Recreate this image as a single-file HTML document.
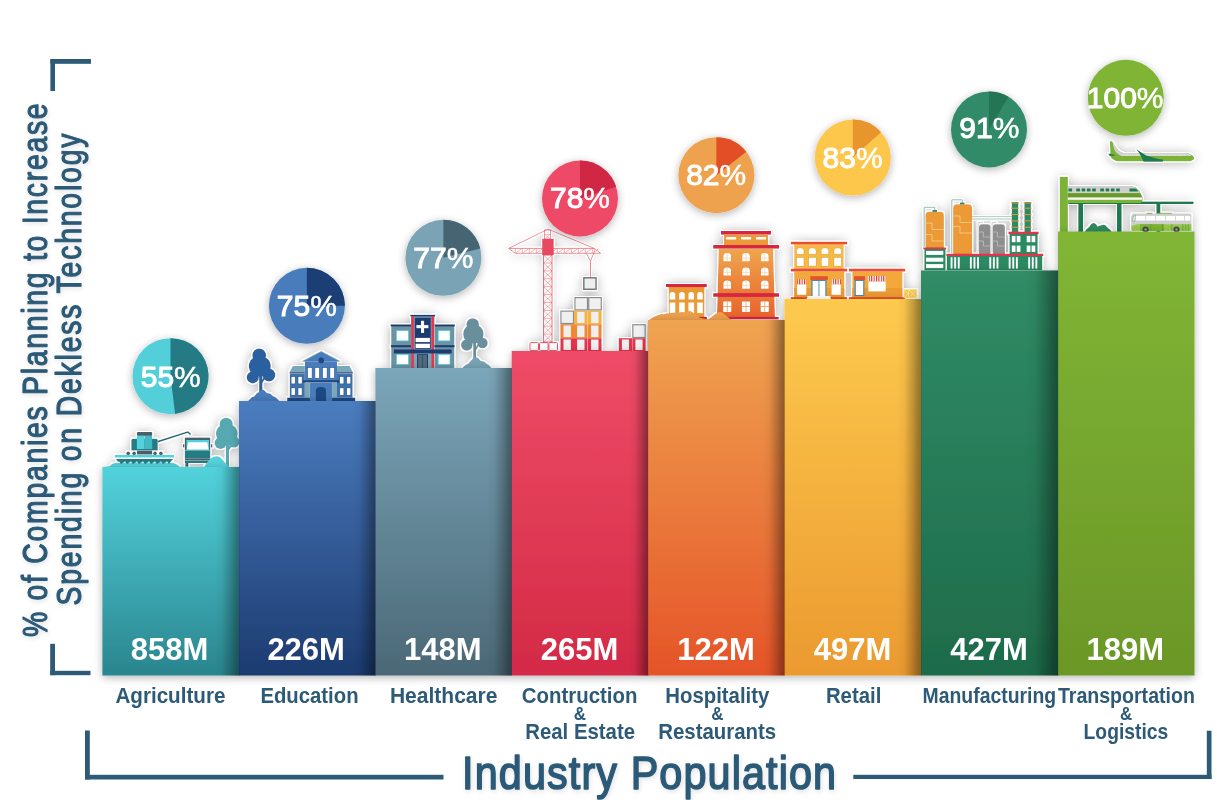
<!DOCTYPE html>
<html><head><meta charset="utf-8"><style>
html,body{margin:0;padding:0;background:#fff;width:1217px;height:800px;overflow:hidden}
svg{position:absolute;left:0;top:0;display:block}
text{font-family:"Liberation Sans",sans-serif}
.val{font-size:31px;font-weight:bold;fill:#fff;text-anchor:middle}
.lab{font-size:21.4px;font-weight:bold;fill:#2c5a77;text-anchor:middle}
.amp{font-size:18.5px;font-weight:bold;fill:#2c5a77;text-anchor:middle}
.pct tspan{stroke-width:0.5px}
.pct{font-size:30px;font-weight:normal;fill:#fff;stroke:#fff;stroke-width:1.05px;text-anchor:middle}
.ttl2{font-weight:normal;fill:#2c5a77;stroke:#2c5a77;stroke-width:1.2px;stroke-linejoin:round;text-anchor:middle}
.big{stroke-width:1.6px}
.ttl{font-weight:bold;fill:#2c5a77;text-anchor:middle}
</style></head><body>
<svg width="1217" height="800" viewBox="0 0 1217 800">
<defs><filter id="sh" x="-30%" y="-30%" width="160%" height="160%"><feGaussianBlur in="SourceAlpha" stdDeviation="4.5"/><feOffset dx="0" dy="2"/><feComponentTransfer><feFuncA type="linear" slope="0.3"/></feComponentTransfer><feMerge><feMergeNode/><feMergeNode in="SourceGraphic"/></feMerge></filter>
<filter id="tsh" x="-20%" y="-40%" width="140%" height="180%"><feGaussianBlur in="SourceAlpha" stdDeviation="2.5"/><feOffset dx="1" dy="2"/><feComponentTransfer><feFuncA type="linear" slope="0.12"/></feComponentTransfer><feMerge><feMergeNode/><feMergeNode in="SourceGraphic"/></feMerge></filter>
<filter id="ish" x="-40%" y="-60%" width="180%" height="220%"><feGaussianBlur in="SourceAlpha" stdDeviation="6" result="b"/><feOffset in="b" dx="0" dy="1" result="o"/><feComponentTransfer in="o" result="s"><feFuncA type="linear" slope="0.38"/></feComponentTransfer><feMorphology in="SourceAlpha" operator="dilate" radius="0.7" result="d"/><feFlood flood-color="#fff"/><feComposite in2="d" operator="in" result="w"/><feMerge><feMergeNode in="s"/><feMergeNode in="w"/><feMergeNode in="SourceGraphic"/></feMerge></filter>
<linearGradient id="rsh" x1="0" y1="0" x2="1" y2="0"><stop offset="0" stop-color="#000" stop-opacity="0"/><stop offset="0.3" stop-color="#000" stop-opacity="0.04"/><stop offset="0.65" stop-color="#000" stop-opacity="0.22"/><stop offset="0.88" stop-color="#000" stop-opacity="0.36"/><stop offset="1" stop-color="#000" stop-opacity="0.4"/></linearGradient>
<linearGradient id="g0" x1="0" y1="0" x2="0" y2="1"><stop offset="0" stop-color="#52d2dc"/><stop offset="1" stop-color="#2a858e"/></linearGradient>
<linearGradient id="g1" x1="0" y1="0" x2="0" y2="1"><stop offset="0" stop-color="#4b7dbf"/><stop offset="1" stop-color="#1c3b70"/></linearGradient>
<linearGradient id="g2" x1="0" y1="0" x2="0" y2="1"><stop offset="0" stop-color="#7ba6b9"/><stop offset="1" stop-color="#4b6876"/></linearGradient>
<linearGradient id="g3" x1="0" y1="0" x2="0" y2="1"><stop offset="0" stop-color="#ef4c67"/><stop offset="1" stop-color="#d32a46"/></linearGradient>
<linearGradient id="g4" x1="0" y1="0" x2="0" y2="1"><stop offset="0" stop-color="#efa451"/><stop offset="1" stop-color="#e55428"/></linearGradient>
<linearGradient id="g5" x1="0" y1="0" x2="0" y2="1"><stop offset="0" stop-color="#fdca4e"/><stop offset="1" stop-color="#eb9a2f"/></linearGradient>
<linearGradient id="g6" x1="0" y1="0" x2="0" y2="1"><stop offset="0" stop-color="#308c66"/><stop offset="1" stop-color="#1e6b4a"/></linearGradient>
<linearGradient id="g7" x1="0" y1="0" x2="0" y2="1"><stop offset="0" stop-color="#81b636"/><stop offset="1" stop-color="#6b9727"/></linearGradient></defs>
<g fill="#2c5a77">
<rect x="50.4" y="59" width="4.6" height="32"/><rect x="50.4" y="59" width="40.6" height="4.8"/>
<rect x="50.2" y="643.8" width="4.8" height="31.4"/><rect x="50.2" y="670.8" width="40.3" height="4.4"/>
<rect x="85" y="730.5" width="4.8" height="49"/><rect x="85" y="774.8" width="358.5" height="4.7"/>
<rect x="1206.8" y="730.7" width="4.7" height="48.3"/><rect x="853.3" y="774.8" width="358.2" height="4.2"/>
</g>
<g filter="url(#tsh)">
<text class="ttl2" font-size="35.5" transform="rotate(-90) scale(0.8,1)" x="-462.75" y="47" textLength="667" lengthAdjust="spacing">% of Companies Planning to Increase</text>
<text class="ttl2" font-size="35.5" transform="rotate(-90) scale(0.8,1)" x="-461.9" y="80.7" textLength="590" lengthAdjust="spacing">Spending on Dekless Technology</text>
<text class="ttl2 big" font-size="47" transform="scale(0.88,1)" x="737.6" y="788.9" textLength="425" lengthAdjust="spacing">Industry Population</text>
</g>
<!-- AGRICULTURE -->
<g filter="url(#ish)">
<!-- ground bumps -->
<path d="M104 467 L110 466 C112 463 116 462.5 120 463 C124 462 128 463 132 462.5 C136 462 140 463 144 462.5 C148 462 152 463 156 462.5 C160 462 166 463 170 462.7 C174 462.5 177 464 180 467 Z" fill="#52d2dc"/>
<!-- harvester -->
<path d="M131.3 450.6 L131.3 440.5 Q131.3 438.8 133 438.8 L156 438.8 Q157.8 438.8 157.8 440.5 L157.8 450.6 Z" fill="#227c86"/>
<path d="M157.8 441.6 L188 432 L190.6 434.6" stroke="#1f6f78" stroke-width="1.7" fill="none" stroke-linejoin="round"/>
<rect x="136.9" y="431.9" width="15.3" height="4" rx="0.8" fill="#4a606b"/>
<rect x="136.9" y="435.6" width="7.65" height="13.4" fill="#52d2dc"/>
<rect x="144.55" y="435.6" width="7.65" height="13.4" fill="#45b9c3"/>
<rect x="136.9" y="450.6" width="15.3" height="4" fill="#4a606b"/>
<circle cx="128.2" cy="453.3" r="1.9" fill="#4a606b"/><circle cx="134.1" cy="453.3" r="1.9" fill="#4a606b"/>
<circle cx="155" cy="453.3" r="1.9" fill="#4a606b"/><circle cx="160.9" cy="453.3" r="1.9" fill="#4a606b"/>
<rect x="114.7" y="454.9" width="59.3" height="2.7" fill="#52d2dc"/>
<path d="M115.9 458.9 L173.1 458.9 L171 461.5 L169 464 L167 461.5 L163 464 L161 461.5 L157 464 L155 461.5 L151 464 L149 461.5 L145 464 L143 461.5 L139 464 L137 461.5 L133 464 L131 461.5 L127 464 L125 461.5 L121 464 L119 461.5 L118 462 Z" fill="#227c86"/>
<!-- truck -->
<rect x="184.8" y="437.4" width="25.5" height="13.2" rx="0.6" fill="#4a606b"/>
<path d="M186.4 440 L209.1 440 L209.1 450.5 L186.4 450.5 Z" fill="#52d2dc"/>
<path d="M188 442.2 L207.3 442.2 L208.7 449.6 L186.8 449.6 Z" fill="#fff"/>
<rect x="183" y="444" width="1.4" height="3.6" rx="0.7" fill="#4a606b"/>
<rect x="211" y="444" width="1.4" height="3.6" rx="0.7" fill="#4a606b"/>
<rect x="184.8" y="450.5" width="25.5" height="7.8" fill="#227c86"/>
<rect x="184.8" y="458.2" width="25.5" height="2" fill="#4a606b"/>
<rect x="184.8" y="460.2" width="25.5" height="2.8" rx="0.5" fill="#227c86"/>
<rect x="185.3" y="462.8" width="3.1" height="4" fill="#4a606b"/>
<rect x="206.7" y="462.8" width="3.1" height="4" fill="#4a606b"/>
<!-- tree -->
<g fill="#57a9b0">
<circle cx="226.2" cy="424.2" r="6.5"/>
<ellipse cx="226.8" cy="433.5" rx="10.8" ry="10"/>
<circle cx="220.6" cy="443" r="6"/>
<circle cx="233.8" cy="441.8" r="5.8"/>
<rect x="225.9" y="440" width="3.1" height="27"/>
<path d="M227 449 L231.5 443 L233.5 444 L228.5 451 Z"/>
</g>
<path d="M204 467 C207 462 210 458.5 213.5 456.8 C216.5 455.6 219 456.2 221 458 C223.5 460.5 226 463.5 229 467 Z" fill="#52d2dc"/>
</g>

<!-- EDUCATION -->
<g filter="url(#ish)">
<!-- tree -->
<g fill="#2c61a0">
<circle cx="259.2" cy="355.5" r="6.9"/>
<ellipse cx="259.8" cy="366.2" rx="11" ry="10.5"/>
<circle cx="252.8" cy="377.3" r="6.1"/>
<circle cx="268.9" cy="375" r="6.5"/>
<rect x="259.1" y="372" width="3.3" height="20"/>
<path d="M260.5 382 L265 375.5 L266.3 376.5 L262 383.5 Z"/>
</g>
<path d="M248 401 L252 397 L254 396.5 L257 393 L259 392 L261.5 389.6 L264 390 L267 393 L270 393.5 L273 396 L276 397.5 L279.5 401 Z" fill="#4a7bbb"/>
<!-- building -->
<path d="M289.5 372.2 L292.8 366 L304.9 366 L304.9 372.2 Z" fill="#7aa8b8"/>
<path d="M352.9 372.2 L349.6 366 L337 366 L337 372.2 Z" fill="#7aa8b8"/>
<rect x="289.5" y="372.1" width="15.4" height="1.3" fill="#1d4a82"/>
<rect x="337" y="372.1" width="15.9" height="1.3" fill="#1d4a82"/>
<rect x="289.8" y="373.3" width="15.1" height="24.5" fill="#3f72ad"/>
<rect x="337" y="373.3" width="15.6" height="24.5" fill="#3f72ad"/>
<g fill="#fff" stroke="#1d4a82" stroke-width="0.5">
<rect x="291.1" y="376.6" width="4.1" height="7.3"/><rect x="298" y="376.6" width="4.1" height="7.3"/>
<rect x="291.1" y="387.9" width="4.1" height="7.3"/><rect x="298" y="387.9" width="4.1" height="7.3"/>
<rect x="339.8" y="376.6" width="4.1" height="7.3"/><rect x="346.7" y="376.6" width="4.1" height="7.3"/>
<rect x="339.8" y="387.9" width="4.1" height="7.3"/><rect x="346.7" y="387.9" width="4.1" height="7.3"/>
</g>
<path d="M301.3 361.6 L321.2 351 L341.1 361.6 Z" fill="#7aa8b8"/>
<path d="M303 361.6 L321.2 352 L339.4 361.6 Z" fill="#4a7bbb"/>
<rect x="304.9" y="361.5" width="32.1" height="19.5" fill="#4a7bbb"/>
<circle cx="321.2" cy="360.4" r="2.8" fill="#1d4a82"/>
<g fill="#fff" stroke="#1d4a82" stroke-width="0.5">
<rect x="307.6" y="367.6" width="4.5" height="10.6"/><rect x="314.9" y="367.6" width="4.5" height="10.6"/>
<rect x="322.6" y="367.6" width="4.5" height="10.6"/><rect x="329.9" y="367.6" width="4.5" height="10.6"/>
</g>
<rect x="302.9" y="380.2" width="36.1" height="2.5" fill="#1d4a82"/>
<rect x="304.9" y="382.5" width="4.9" height="15.3" fill="#7aa8b8"/>
<rect x="332.1" y="382.5" width="4.9" height="15.3" fill="#7aa8b8"/>
<rect x="287.1" y="397.6" width="68.2" height="3.4" fill="#1d4a82"/>
<rect x="309.8" y="382.6" width="22.3" height="18.4" fill="#4a7bbb"/>
<path d="M315.9 401 L315.9 390.5 Q315.9 387.1 321 387.1 Q326 387.1 326 390.5 L326 401 Z" fill="#1d4a82"/>
</g>

<!-- HEALTHCARE -->
<g filter="url(#ish)">
<!-- wings -->
<rect x="391.2" y="325.5" width="19.8" height="42.5" fill="#6b93a3"/>
<rect x="434.6" y="325.5" width="19.7" height="42.5" fill="#6b93a3"/>
<rect x="390.5" y="324.3" width="20.5" height="2.1" fill="#1a3a70"/>
<rect x="434.6" y="324.3" width="20.3" height="2.1" fill="#1a3a70"/>
<g fill="#fff" stroke="#4fd0da" stroke-width="0.7">
<rect x="396.4" y="330.7" width="12" height="10.2"/><rect x="438.2" y="330.7" width="11.8" height="10.2"/>
<rect x="396.4" y="354.4" width="12" height="10"/><rect x="438.2" y="354.4" width="11.8" height="10"/>
</g>
<rect x="390.8" y="345.2" width="63.9" height="2" fill="#1a3a70"/>
<!-- tower -->
<rect x="411" y="316" width="23.6" height="52" fill="#7ba3b5"/>
<rect x="410.2" y="314.8" width="25.1" height="1.6" fill="#1a3a70"/>
<rect x="411.3" y="316" width="2.5" height="52" fill="#e8344e"/>
<rect x="431.5" y="316" width="2.5" height="52" fill="#e8344e"/>
<rect x="414.8" y="317.7" width="15.9" height="31" fill="#1a3a70"/>
<rect x="416.4" y="325.1" width="12" height="3.1" fill="#fff"/>
<rect x="421" y="320.8" width="3.1" height="12.1" fill="#fff"/>
<rect x="415.6" y="337.9" width="14.3" height="4.2" fill="#fff"/>
<rect x="415.6" y="343.7" width="14.3" height="4.3" fill="#fff"/>
<rect x="393.9" y="349.5" width="57.7" height="3.9" fill="#1a3a70"/>
<rect x="417.1" y="354.2" width="10.9" height="13.8" fill="#1a3a70"/>
<rect x="418.1" y="355" width="4.2" height="13" fill="#536b77"/>
<rect x="422.8" y="355" width="4.2" height="13" fill="#536b77"/>
<!-- tree -->
<g fill="#6b8f9c">
<circle cx="472.7" cy="324.5" r="6.3"/>
<ellipse cx="473.4" cy="334" rx="10.3" ry="9.8"/>
<circle cx="466.8" cy="345" r="5.8"/>
<circle cx="482.5" cy="343" r="5.2"/>
<rect x="473.2" y="340" width="2.8" height="19"/>
<path d="M474.5 349 L478.5 343 L479.7 344 L476 350.5 Z"/>
</g>
<path d="M462.4 368 L466 364.5 L468 364 L471 360.5 L473 358.5 L475.5 356.9 L478 358 L481 361 L484 361.5 L487 364 L489 365 L491.5 368 Z" fill="#78a3b5"/>
</g>

<!-- CONSTRUCTION -->
<g filter="url(#ish)">
<path d="M548.1 229.1 L508.7 248.4 M548.1 229.1 L594.2 248.4" stroke="#e84a62" stroke-width="0.8" fill="none"/>
<path d="M508.7 248.4 L594.2 248.4 L600.7 253.3 L515.3 253.3 Z" fill="none" stroke="#e84a62" stroke-width="0.8"/>
<path d="M515.3 248.4 L515.3 253.3 M516.3 252.6 L521.1 249.1 M522.3 248.4 L522.3 253.3 M523.3 252.6 L528.1 249.1 M529.3 248.4 L529.3 253.3 M530.3 252.6 L535.1 249.1 M536.3 248.4 L536.3 253.3 M537.3 252.6 L542.1 249.1 M543.3 248.4 L543.3 253.3 M544.3 252.6 L549.1 249.1 M550.3 248.4 L550.3 253.3 M551.3 252.6 L556.1 249.1 M557.3 248.4 L557.3 253.3 M558.3 252.6 L563.1 249.1 M564.3 248.4 L564.3 253.3 M565.3 252.6 L570.1 249.1 M571.3 248.4 L571.3 253.3 M572.3 252.6 L577.1 249.1 M578.3 248.4 L578.3 253.3 M579.3 252.6 L584.1 249.1 M585.3 248.4 L585.3 253.3 M586.3 252.6 L591.1 249.1 M592.3 248.4 L592.3 253.3 M593.3 252.6 L598.1 249.1 M594.2 248.4 L594.2 253.3" stroke="#e84a62" stroke-width="0.6" fill="none"/>
<rect x="544.5" y="230" width="6" height="9" fill="none" stroke="#e84a62" stroke-width="0.7"/>
<path d="M544.5 234.5 L550.5 234.5 M544.5 234.5 L550.5 239 M550.5 234.5 L544.5 239" stroke="#e84a62" stroke-width="0.45"/>
<rect x="542.1" y="238.8" width="11.7" height="16.3" fill="#e84a62"/>
<rect x="543.6" y="255.1" width="8.4" height="87" fill="none" stroke="#e84a62" stroke-width="1"/>
<path d="M543.6 255.1 L552 263.0 M552 255.1 L543.6 263.0 M543.6 263.0 L552 263.0 M543.6 263.0 L552 270.9 M552 263.0 L543.6 270.9 M543.6 270.9 L552 270.9 M543.6 270.9 L552 278.8 M552 270.9 L543.6 278.8 M543.6 278.8 L552 278.8 M543.6 278.8 L552 286.7 M552 278.8 L543.6 286.7 M543.6 286.7 L552 286.7 M543.6 286.7 L552 294.6 M552 286.7 L543.6 294.6 M543.6 294.6 L552 294.6 M543.6 294.6 L552 302.5 M552 294.6 L543.6 302.5 M543.6 302.5 L552 302.5 M543.6 302.5 L552 310.4 M552 302.5 L543.6 310.4 M543.6 310.4 L552 310.4 M543.6 310.4 L552 318.3 M552 310.4 L543.6 318.3 M543.6 318.3 L552 318.3 M543.6 318.3 L552 326.2 M552 318.3 L543.6 326.2 M543.6 326.2 L552 326.2 M543.6 326.2 L552 334.1 M552 326.2 L543.6 334.1 M543.6 334.1 L552 334.1 M543.6 334.1 L552 342.0 M552 334.1 L543.6 342.0 M543.6 342.0 L552 342.0 M543.6 342.0 L552 349.9 M552 342.0 L543.6 349.9 M543.6 349.9 L552 349.9 " stroke="#e84a62" stroke-width="0.6" fill="none"/>
<path d="M586.3 253.3 L590.5 261.2 L593.7 253.3 M590.5 261.2 L590.5 277.5" stroke="#e84a62" stroke-width="0.8" fill="none"/>
<rect x="583.8" y="277.8" width="12.3" height="11.5" fill="#eee" stroke="#777" stroke-width="1.5"/>
<rect x="529.9" y="342.6" width="8.6" height="8" rx="0.8" fill="#fff" stroke="#e84a62" stroke-width="1"/>
<rect x="539.5" y="342.6" width="8.6" height="8" rx="0.8" fill="#fff" stroke="#e84a62" stroke-width="1"/>
<rect x="548.9" y="342.6" width="8.6" height="8" rx="0.8" fill="#fff" stroke="#e84a62" stroke-width="1"/>
<rect x="560.3" y="338.1" width="13.8" height="12.9" fill="#e23450"/>
<rect x="563.5" y="339.5" width="7.4" height="10.5" fill="#efefef"/>
<rect x="573.9" y="338.1" width="13.8" height="12.9" fill="#e23450"/>
<rect x="577.1" y="339.5" width="7.4" height="10.5" fill="#efefef"/>
<rect x="587.9" y="338.1" width="13.8" height="12.9" fill="#e23450"/>
<rect x="591.1" y="339.5" width="7.4" height="10.5" fill="#efefef"/>
<rect x="560.3" y="324.1" width="13.8" height="14.0" fill="#ef8a32"/>
<rect x="563.5" y="325.5" width="7.4" height="11.6" fill="#efefef"/>
<rect x="573.9" y="324.1" width="13.8" height="14.0" fill="#ef8a32"/>
<rect x="577.1" y="325.5" width="7.4" height="11.6" fill="#efefef"/>
<rect x="587.9" y="324.1" width="13.8" height="14.0" fill="#ef8a32"/>
<rect x="591.1" y="325.5" width="7.4" height="11.6" fill="#efefef"/>
<rect x="560.9" y="311.1" width="12.6" height="12.4" fill="#f0f0f0" stroke="#8a8a8a" stroke-width="1.2"/>
<rect x="573.9" y="310.5" width="13.8" height="13.6" fill="#f5b43e"/>
<rect x="577.1" y="311.9" width="7.4" height="11.2" fill="#efefef"/>
<rect x="587.9" y="310.5" width="13.8" height="13.6" fill="#f5b43e"/>
<rect x="591.1" y="311.9" width="7.4" height="11.2" fill="#efefef"/>
<rect x="574.9" y="297.6" width="12.6" height="12.3" fill="#f0f0f0" stroke="#8a8a8a" stroke-width="1.2"/>
<rect x="588.7" y="297.6" width="12.6" height="12.3" fill="#f0f0f0" stroke="#8a8a8a" stroke-width="1.2"/>
<rect x="618.7" y="338.1" width="13.5" height="12.9" fill="#e23450"/>
<rect x="621.9" y="339.5" width="7.1" height="10.5" fill="#efefef"/>
<rect x="632.2" y="338.1" width="13.6" height="12.9" fill="#e23450"/>
<rect x="635.4" y="339.5" width="7.2" height="10.5" fill="#efefef"/>
<rect x="632.8" y="324.7" width="12.4" height="12.8" fill="#f0f0f0" stroke="#8a8a8a" stroke-width="1.2"/>
</g>
<!-- HOSPITALITY -->
<defs><linearGradient id="hg" x1="0" y1="0" x2="0" y2="1"><stop offset="0" stop-color="#efa64c"/><stop offset="1" stop-color="#e8622c"/></linearGradient></defs>
<g filter="url(#ish)">
<rect x="668.75" y="287" width="35.65" height="32" fill="#ea9a36"/>
<rect x="666" y="284" width="40.9" height="3.1" fill="#d7263f"/>
<path d="M669.70 299.4 L669.70 294.6 Q669.70 291.9 672.50 291.9 Q675.30 291.9 675.30 294.6 L675.30 299.4 Z" fill="#fff"/>
<rect x="669.70" y="302.5" width="5.6" height="10.6" fill="#fff"/>
<path d="M679.10 299.4 L679.10 294.6 Q679.10 291.9 681.90 291.9 Q684.70 291.9 684.70 294.6 L684.70 299.4 Z" fill="#fff"/>
<rect x="679.10" y="302.5" width="5.6" height="10.6" fill="#fff"/>
<path d="M688.45 299.4 L688.45 294.6 Q688.45 291.9 691.25 291.9 Q694.05 291.9 694.05 294.6 L694.05 299.4 Z" fill="#fff"/>
<rect x="688.45" y="302.5" width="5.6" height="10.6" fill="#fff"/>
<path d="M697.20 299.4 L697.20 294.6 Q697.20 291.9 700.00 291.9 Q702.80 291.9 702.80 294.6 L702.80 299.4 Z" fill="#fff"/>
<rect x="697.20" y="302.5" width="5.6" height="10.6" fill="#fff"/>
<rect x="698.75" y="316.9" width="8.2" height="2.5" fill="#d7263f"/>
<rect x="721" y="231" width="50" height="3.75" fill="#d7263f"/>
<rect x="724" y="234.7" width="44.1" height="10.3" fill="#eb9a38"/>
<rect x="726.00" y="237.1" width="10.25" height="2.5" rx="1" fill="#fff"/>
<rect x="741.00" y="237.1" width="10.25" height="2.5" rx="1" fill="#fff"/>
<rect x="756.00" y="237.1" width="10.25" height="2.5" rx="1" fill="#fff"/>
<path d="M718.75 248.7 L773.1 248.7 L775 318 L716.9 318 Z" fill="url(#hg)"/>
<rect x="713.1" y="245" width="65.9" height="3.75" fill="#d7263f"/>
<rect x="713.1" y="293.1" width="65.9" height="3.8" fill="#d7263f"/>
<path d="M723.50 261.25 L723.50 256.30 Q723.50 253.1 727.25 253.1 Q731.00 253.1 731.00 256.30 L731.00 261.25 Z" fill="#fff"/>
<path d="M727.25 253.1 L727.25 261.25 M723.50 257.98 L731.00 257.98" stroke="#f0c7a0" stroke-width="0.6"/>
<path d="M723.50 275.6 L723.50 270.70 Q723.50 267.5 727.25 267.5 Q731.00 267.5 731.00 270.70 L731.00 275.6 Z" fill="#fff"/>
<path d="M727.25 267.5 L727.25 275.6 M723.50 272.35 L731.00 272.35" stroke="#f0c7a0" stroke-width="0.6"/>
<path d="M723.50 288.75 L723.50 283.80 Q723.50 280.6 727.25 280.6 Q731.00 280.6 731.00 283.80 L731.00 288.75 Z" fill="#fff"/>
<path d="M727.25 280.6 L727.25 288.75 M723.50 285.48 L731.00 285.48" stroke="#f0c7a0" stroke-width="0.6"/>
<rect x="723.20" y="301.5" width="8.1" height="10.4" rx="0.8" fill="#fff"/>
<path d="M727.25 301.5 L727.25 311.9 M723.20 306.5 L731.30 306.5" stroke="#ec8a48" stroke-width="0.7"/>
<path d="M742.25 261.25 L742.25 256.30 Q742.25 253.1 746.00 253.1 Q749.75 253.1 749.75 256.30 L749.75 261.25 Z" fill="#fff"/>
<path d="M746.00 253.1 L746.00 261.25 M742.25 257.98 L749.75 257.98" stroke="#f0c7a0" stroke-width="0.6"/>
<path d="M742.25 275.6 L742.25 270.70 Q742.25 267.5 746.00 267.5 Q749.75 267.5 749.75 270.70 L749.75 275.6 Z" fill="#fff"/>
<path d="M746.00 267.5 L746.00 275.6 M742.25 272.35 L749.75 272.35" stroke="#f0c7a0" stroke-width="0.6"/>
<path d="M742.25 288.75 L742.25 283.80 Q742.25 280.6 746.00 280.6 Q749.75 280.6 749.75 283.80 L749.75 288.75 Z" fill="#fff"/>
<path d="M746.00 280.6 L746.00 288.75 M742.25 285.48 L749.75 285.48" stroke="#f0c7a0" stroke-width="0.6"/>
<rect x="741.95" y="301.5" width="8.1" height="10.4" rx="0.8" fill="#fff"/>
<path d="M746.00 301.5 L746.00 311.9 M741.95 306.5 L750.05 306.5" stroke="#ec8a48" stroke-width="0.7"/>
<path d="M761.00 261.25 L761.00 256.30 Q761.00 253.1 764.75 253.1 Q768.50 253.1 768.50 256.30 L768.50 261.25 Z" fill="#fff"/>
<path d="M764.75 253.1 L764.75 261.25 M761.00 257.98 L768.50 257.98" stroke="#f0c7a0" stroke-width="0.6"/>
<path d="M761.00 275.6 L761.00 270.70 Q761.00 267.5 764.75 267.5 Q768.50 267.5 768.50 270.70 L768.50 275.6 Z" fill="#fff"/>
<path d="M764.75 267.5 L764.75 275.6 M761.00 272.35 L768.50 272.35" stroke="#f0c7a0" stroke-width="0.6"/>
<path d="M761.00 288.75 L761.00 283.80 Q761.00 280.6 764.75 280.6 Q768.50 280.6 768.50 283.80 L768.50 288.75 Z" fill="#fff"/>
<path d="M764.75 280.6 L764.75 288.75 M761.00 285.48 L768.50 285.48" stroke="#f0c7a0" stroke-width="0.6"/>
<rect x="760.70" y="301.5" width="8.1" height="10.4" rx="0.8" fill="#fff"/>
<path d="M764.75 301.5 L764.75 311.9 M760.70 306.5 L768.80 306.5" stroke="#ec8a48" stroke-width="0.7"/>
<rect x="728" y="316.9" width="50.75" height="2.6" fill="#d7263f"/>
<path d="M648.5 320.5 L651 318.5 L654.5 316.5 L657 315.5 L659 314.8 L661 313.9 L663.5 314.2 L665.5 313.4 L667.6 313.2 L670 313.6 L672 312.9 L674.2 312.6 L676.5 313 L679 312.4 L682 311.9 L684.5 312.3 L687 311.6 L690 311 L692.5 312.2 L695.2 313.9 L697.5 315.8 L699.8 317.8 L703 318.6 L706 319 L708.4 319.2 L711 317.5 L713.6 315.2 L716 313.6 L718 312.6 L720.2 311.9 L722.5 312.8 L725.5 315.2 L728 317.3 L730.7 319.2 L732 320.5 Z" fill="#eda04e"/>
</g>
<!-- RETAIL -->
<defs><pattern id="awn" x="0" y="0" width="2.4" height="10" patternUnits="userSpaceOnUse"><rect width="1.2" height="10" fill="#d62b3f"/><rect x="1.2" width="1.2" height="10" fill="#fff"/></pattern></defs>
<g filter="url(#ish)">
<rect x="794.2" y="244.3" width="49.5" height="24.6" fill="#f7b93f"/>
<rect x="790.75" y="241.7" width="56.35" height="2.8" fill="#e8502a"/>
<path d="M796.5 254.3 L796.5 250.7 Q796.5 247.7 800.25 247.7 Q804.0 247.7 804.0 250.7 L804.0 254.3 Z" fill="#fff" stroke="#c98a2e" stroke-width="0.4"/>
<rect x="796.5" y="257.4" width="7.5" height="8.7" fill="#fff" stroke="#c98a2e" stroke-width="0.4"/>
<path d="M808.6 254.3 L808.6 250.7 Q808.6 247.7 812.35 247.7 Q816.1 247.7 816.1 250.7 L816.1 254.3 Z" fill="#fff" stroke="#c98a2e" stroke-width="0.4"/>
<rect x="808.6" y="257.4" width="7.5" height="8.7" fill="#fff" stroke="#c98a2e" stroke-width="0.4"/>
<path d="M821.2 254.3 L821.2 250.7 Q821.2 247.7 824.95 247.7 Q828.7 247.7 828.7 250.7 L828.7 254.3 Z" fill="#fff" stroke="#c98a2e" stroke-width="0.4"/>
<rect x="821.2" y="257.4" width="7.5" height="8.7" fill="#fff" stroke="#c98a2e" stroke-width="0.4"/>
<path d="M833.9 254.3 L833.9 250.7 Q833.9 247.7 837.65 247.7 Q841.4 247.7 841.4 250.7 L841.4 254.3 Z" fill="#fff" stroke="#c98a2e" stroke-width="0.4"/>
<rect x="833.9" y="257.4" width="7.5" height="8.7" fill="#fff" stroke="#c98a2e" stroke-width="0.4"/>
<rect x="794.2" y="271.5" width="50.1" height="26.2" fill="#f2a83a"/>
<rect x="794.2" y="288" width="50.1" height="9.7" fill="#eb9a32"/>
<rect x="790.75" y="268.6" width="56.35" height="3" fill="#e8502a"/>
<rect x="810.3" y="276.2" width="17.5" height="3.7" fill="#e8502a"/>
<rect x="811.4" y="279.9" width="15.1" height="16.3" fill="#4a8aa0"/>
<rect x="812.6" y="281" width="5.9" height="15.2" fill="#fff"/>
<rect x="819.4" y="281" width="5.9" height="15.2" fill="#fff"/>
<rect x="797.1" y="279.3" width="9.2" height="5.2" fill="url(#awn)"/>
<rect x="797.1" y="284.5" width="9.2" height="10.3" fill="#fff"/>
<rect x="831.6" y="279.3" width="9.2" height="5.2" fill="url(#awn)"/>
<rect x="831.6" y="284.5" width="9.2" height="10.3" fill="#fff"/>
<rect x="790.75" y="297.1" width="16.1" height="1.9" fill="#e8502a"/>
<rect x="830.5" y="297.1" width="16.6" height="1.9" fill="#e8502a"/>
<rect x="807.4" y="296" width="23.1" height="3" fill="#fff"/>
<rect x="852.3" y="271.5" width="50.1" height="26.2" fill="#f2a83a"/>
<rect x="852.3" y="288" width="50.1" height="9.7" fill="#eb9a32"/>
<rect x="848.9" y="268.6" width="56.4" height="3" fill="#e8502a"/>
<rect x="854" y="276.2" width="11" height="3.7" fill="#e8502a"/>
<rect x="854.6" y="279.9" width="9.8" height="16.1" fill="#4a8aa0"/>
<rect x="855.8" y="281" width="7.4" height="14" fill="#fff"/>
<rect x="867.6" y="275.9" width="18.4" height="5.7" fill="url(#awn)"/>
<rect x="868.4" y="281.6" width="17.3" height="9.8" fill="#fff"/>
<rect x="848.9" y="297.1" width="56.4" height="1.9" fill="#e8502a"/>
<rect x="904.0" y="289.6" width="8.2" height="8.3" fill="#f7c64a" stroke="#fde79a" stroke-width="0.8"/>
<path d="M904.5 290.1 L911.7 297.4 M911.7 290.1 L904.5 297.4" stroke="#fde79a" stroke-width="0.8"/>
<rect x="908.6" y="289.6" width="8.2" height="8.3" fill="#f7c64a" stroke="#fde79a" stroke-width="0.8"/>
<path d="M909.1 290.1 L916.3000000000001 297.4 M916.3000000000001 290.1 L909.1 297.4" stroke="#fde79a" stroke-width="0.8"/>
</g>
<!-- MANUFACTURING -->
<g filter="url(#ish)">
<path d="M924.2 247 L924.2 207.3 L934.8 207.3 L934.8 210.5" stroke="#5fa88a" stroke-width="0.8" fill="none"/>
<path d="M951.8 253 L951.8 199.8 L962.3 199.8 L962.3 203" stroke="#5fa88a" stroke-width="0.8" fill="none"/>
<path d="M972 216.6 L1012 216.6 M972 219 L1012 219" stroke="#8fc2ae" stroke-width="0.8" fill="none"/>
<path d="M978.3 252 L978.3 222.5 L983 222.5 M992.2 252 L992.2 222.5 L996.5 222.5" stroke="#bbb" stroke-width="0.6" fill="none"/>
<path d="M925.5 248 L925.5 215.5 Q925.5 211.7 929 211.7 L940.5 211.7 Q943.9 211.7 943.9 215.5 L943.9 248 Z" fill="#ec9a34"/>
<rect x="932.4" y="210" width="4.6" height="1.9" fill="#2a8a62"/>
<path d="M925.5 223 L932 223 L932 229.5 L943.9 229.5 M925.5 234.5 L932 234.5 L932 241 L943.9 241" stroke="#f6d7a6" stroke-width="0.7" fill="none"/>
<rect x="924.3" y="249" width="21.3" height="21.5" fill="#2a8a62"/>
<rect x="923.2" y="247.4" width="23" height="1.8" fill="#e0344d"/>
<rect x="926" y="250.9" width="17.3" height="4" fill="#fff"/>
<rect x="926" y="257.7" width="17.3" height="4" fill="#fff"/>
<rect x="926" y="264.1" width="17.3" height="4" fill="#fff"/>
<path d="M953.1 254 L953.1 208.5 Q953.1 204.2 957 204.2 L968.2 204.2 Q972.1 204.2 972.1 208.5 L972.1 254 Z" fill="#ec9a34"/>
<rect x="960" y="202.5" width="4.6" height="1.9" fill="#2a8a62"/>
<path d="M953.1 216 L960 216 L960 222.5 L972.1 222.5 M953.1 226.5 L960 226.5 L960 233 L972.1 233" stroke="#f6d7a6" stroke-width="0.7" fill="none"/>
<path d="M979 254 L979 227.5 Q979 224.3 982 224.3 L987.5 224.3 Q990.5 224.3 990.5 227.5 L990.5 254 Z" fill="#8e8e8e"/>
<path d="M979 232 L983.4 232 L983.4 237 L990.5 237 M979 241 L983.4 241 L983.4 246 L990.5 246" stroke="#cfcfcf" stroke-width="0.6" fill="none"/>
<path d="M992.8 254 L992.8 227.5 Q992.8 224.3 995.8 224.3 L1001.9 224.3 Q1004.9 224.3 1004.9 227.5 L1004.9 254 Z" fill="#8e8e8e"/>
<path d="M992.8 232 L997.4 232 L997.4 237 L1004.9 237 M992.8 241 L997.4 241 L997.4 246 L1004.9 246" stroke="#cfcfcf" stroke-width="0.6" fill="none"/>
<rect x="1011.8" y="202" width="6.5" height="30" fill="#2a8a62"/>
<rect x="1010.9" y="202.5" width="8.3" height="1" fill="#ec9a34"/>
<rect x="1010.9" y="207.7" width="8.3" height="1" fill="#ec9a34"/>
<rect x="1010.9" y="214.1" width="8.3" height="1" fill="#ec9a34"/>
<rect x="1010.9" y="220.4" width="8.3" height="1" fill="#ec9a34"/>
<rect x="1010.9" y="226.7" width="8.3" height="1" fill="#ec9a34"/>
<rect x="1024.4" y="202" width="6.5" height="30" fill="#2a8a62"/>
<rect x="1023.5000000000001" y="202.5" width="8.3" height="1" fill="#ec9a34"/>
<rect x="1023.5000000000001" y="207.7" width="8.3" height="1" fill="#ec9a34"/>
<rect x="1023.5000000000001" y="214.1" width="8.3" height="1" fill="#ec9a34"/>
<rect x="1023.5000000000001" y="220.4" width="8.3" height="1" fill="#ec9a34"/>
<rect x="1023.5000000000001" y="226.7" width="8.3" height="1" fill="#ec9a34"/>
<rect x="1009.5" y="234" width="28.2" height="20" fill="#2a8a62"/>
<rect x="1008.3" y="231.6" width="30.5" height="2.5" fill="#e0344d"/>
<rect x="1011.8" y="235.9" width="3.7" height="6.3" fill="#fff"/>
<rect x="1016.6999999999999" y="235.9" width="3.7" height="6.3" fill="#fff"/>
<rect x="1011.8" y="245.6" width="3.7" height="6.3" fill="#fff"/>
<rect x="1016.6999999999999" y="245.6" width="3.7" height="6.3" fill="#fff"/>
<rect x="1026.7" y="235.9" width="3.7" height="6.3" fill="#fff"/>
<rect x="1031.6000000000001" y="235.9" width="3.7" height="6.3" fill="#fff"/>
<rect x="1026.7" y="245.6" width="3.7" height="6.3" fill="#fff"/>
<rect x="1031.6000000000001" y="245.6" width="3.7" height="6.3" fill="#fff"/>
<rect x="946.8" y="256" width="95.5" height="14.5" fill="#2a8a62"/>
<rect x="946.2" y="253.7" width="97.2" height="2.3" fill="#e0344d"/>
<rect x="950.6" y="257.2" width="1.9" height="11.4" fill="#fff"/>
<rect x="954.2" y="257.2" width="1.9" height="11.4" fill="#fff"/>
<rect x="957.8" y="257.2" width="1.9" height="11.4" fill="#fff"/>
<rect x="969.9" y="257.2" width="1.9" height="11.4" fill="#fff"/>
<rect x="973.5" y="257.2" width="1.9" height="11.4" fill="#fff"/>
<rect x="977.1" y="257.2" width="1.9" height="11.4" fill="#fff"/>
<rect x="989.3" y="257.2" width="1.9" height="11.4" fill="#fff"/>
<rect x="992.9" y="257.2" width="1.9" height="11.4" fill="#fff"/>
<rect x="996.5" y="257.2" width="1.9" height="11.4" fill="#fff"/>
<rect x="1008.7" y="257.2" width="1.9" height="11.4" fill="#fff"/>
<rect x="1012.3" y="257.2" width="1.9" height="11.4" fill="#fff"/>
<rect x="1015.9" y="257.2" width="1.9" height="11.4" fill="#fff"/>
<rect x="1028.2" y="257.2" width="1.9" height="11.4" fill="#fff"/>
<rect x="1031.8" y="257.2" width="1.9" height="11.4" fill="#fff"/>
<rect x="1035.4" y="257.2" width="1.9" height="11.4" fill="#fff"/>
</g>
<!-- TRANSPORT -->
<g filter="url(#ish)">
<rect x="1059.8" y="176.9" width="8.1" height="56" fill="#7cb336"/>
<rect x="1067.9" y="201.6" width="125.9" height="2.4" rx="1" fill="#1f7a4f"/>
<rect x="1078.2" y="204" width="4.8" height="28.5" fill="#1f7a4f"/>
<rect x="1117" y="204" width="4.7" height="28.5" fill="#1f7a4f"/>
<rect x="1156.3" y="204" width="4.1" height="28.5" fill="#1f7a4f"/>
<path d="M1084.2 232.5 Q1087 228 1089.5 226.5 Q1091 223 1093.7 223 Q1096 223 1097.5 226.5 Q1099.5 225.5 1101 225.2 Q1102.5 224.5 1104 224.8 Q1106 225 1107.5 227.5 Q1110 229 1112.2 232.5 Z" fill="#2e8a5f"/>
<path d="M1067.9 186.1 L1130 186.1 Q1136 186.3 1139.5 191 L1142.6 197.5 Q1143 202.5 1140 203 L1067.9 203 Z" fill="#7cb336"/>
<path d="M1067.9 186.1 L1130 186.1 Q1136 186.3 1139 191.5 L1140 193.3 L1067.9 193.3 Z" fill="#cfcfcf"/>
<path d="M1067.9 193.2 L1140 193.2 Q1141.8 195.5 1142 197.4 L1067.9 197.4 Z" fill="#6a9a2a"/>
<path d="M1067.9 197.4 L1142 197.4 Q1142.3 199 1141.6 199.8 L1067.9 199.8 Z" fill="#fff"/>
<rect x="1068.5" y="188.5" width="3.6" height="2.9" fill="#1f7a4f"/>
<rect x="1076.3" y="188.5" width="3.6" height="2.9" fill="#1f7a4f"/>
<rect x="1081.6" y="188.5" width="3.6" height="2.9" fill="#1f7a4f"/>
<rect x="1086.9" y="188.5" width="3.6" height="2.9" fill="#1f7a4f"/>
<rect x="1092.2" y="188.5" width="3.6" height="2.9" fill="#1f7a4f"/>
<rect x="1100.3" y="188.5" width="3.6" height="2.9" fill="#1f7a4f"/>
<rect x="1105.6" y="188.5" width="3.6" height="2.9" fill="#1f7a4f"/>
<rect x="1110.9" y="188.5" width="3.6" height="2.9" fill="#1f7a4f"/>
<rect x="1116.2" y="188.5" width="3.6" height="2.9" fill="#1f7a4f"/>
<path d="M1129.5 188.5 L1135.5 188.5 Q1137.5 189.5 1138.2 191.4 L1129.5 191.4 Z" fill="#1f7a4f"/>
<path d="M1133 213.5 L1189.5 213.5 Q1191.4 213.5 1191.4 215.5 L1191.4 230.8 L1132 230.8 Q1131 230.8 1131 229.5 L1131 218 Q1131.5 214 1133 213.5 Z" fill="#cfcfcf"/>
<rect x="1146.5" y="212.8" width="6" height="1" fill="#7cb336"/><rect x="1159" y="212.8" width="13" height="1" fill="#7cb336"/>
<path d="M1132.5 221 L1133.5 216 L1135.5 215.5 L1134.5 221.5 Z" fill="#fff" stroke="#1f7a4f" stroke-width="0.4"/>
<rect x="1135.8" y="215.9" width="54.5" height="4.7" fill="#fff"/>
<rect x="1145.5" y="215.9" width="0.6" height="4.7" fill="#bbb"/>
<rect x="1155.3" y="215.9" width="0.6" height="4.7" fill="#bbb"/>
<rect x="1165" y="215.9" width="0.6" height="4.7" fill="#bbb"/>
<rect x="1175.3" y="215.9" width="0.6" height="4.7" fill="#bbb"/>
<rect x="1184.3" y="215.9" width="0.6" height="4.7" fill="#bbb"/>
<path d="M1131.5 226 L1137 224.2 L1191.4 224.2 L1191.4 230.8 L1132 230.8 Z" fill="#98c94a"/>
<rect x="1140" y="224.2" width="24" height="6.6" fill="#7cb336"/>
<rect x="1150.5" y="224.2" width="0.7" height="6.6" fill="#4e9a3c"/>
<rect x="1162.5" y="224.2" width="0.7" height="6.6" fill="#4e9a3c"/>
<rect x="1171.5" y="224.2" width="0.7" height="6.6" fill="#4e9a3c"/>
<rect x="1182.5" y="224.2" width="0.7" height="6.6" fill="#4e9a3c"/>
<rect x="1185.5" y="224.2" width="0.7" height="6.6" fill="#4e9a3c"/>
<rect x="1188" y="224.2" width="0.7" height="6.6" fill="#4e9a3c"/>
<circle cx="1145.6" cy="229.5" r="3.1" fill="#444"/><circle cx="1145.6" cy="229.5" r="1.3" fill="#999"/>
<circle cx="1176.5" cy="229.5" r="3.1" fill="#444"/><circle cx="1176.5" cy="229.5" r="1.3" fill="#999"/>
<path d="M1109.9 141.1 L1112.3 141.6 Q1115 147 1118.5 150.5 Q1121.5 153 1125 153.4 L1188.7 153.4 Q1193.5 155 1194.3 158.3 Q1193.5 161 1189 161.3 L1117 161.3 Q1112.5 160.2 1110.5 156.5 L1108.2 153.8 L1110.3 153.6 Z" fill="#7cb336"/>
<path d="M1112.3 141.6 Q1115 147 1118.5 150.5 Q1121.5 153 1125 153.4 L1188.7 153.4 Q1190.8 154.2 1191.5 155.9 L1121 155.9 Q1116.5 154.5 1114.2 150 Q1112.8 146 1112.3 141.6 Z" fill="#d2d2d2"/>
<path d="M1112.6 143 Q1113.5 150 1117 153.5 L1121 155.9 L1116 156 Q1112 152 1111.5 143.5 Z" fill="#7cb336"/>
<path d="M1123 154.9 L1186 154.9" stroke="#fff" stroke-width="0.8" stroke-dasharray="0.8 1.0"/>
<path d="M1136.2 149.3 L1139.4 151 L1146 155.5 L1157.5 158.8 L1162.9 159.4 L1162.9 161.7 L1143.5 161.7 Q1141.5 156.3 1139 153 Z" fill="#1f7a4f"/>
<path d="M1108.2 153.8 L1113.5 154.6 L1115 156 L1109.5 155.8 Z" fill="#1f7a4f"/>
</g>
<g filter="url(#sh)">
<rect x="102.4" y="467" width="137.1" height="208.5" fill="url(#g0)"/>
<rect x="239.0" y="401" width="136.89999999999998" height="274.5" fill="url(#g1)"/>
<rect x="375.4" y="368" width="136.8" height="307.5" fill="url(#g2)"/>
<rect x="511.7" y="351" width="136.8" height="324.5" fill="url(#g3)"/>
<rect x="648.0" y="320" width="137.0" height="355.5" fill="url(#g4)"/>
<rect x="784.5" y="299" width="137.0" height="376.5" fill="url(#g5)"/>
<rect x="921.0" y="270.5" width="137.5" height="405.0" fill="url(#g6)"/>
<rect x="1058.0" y="231.5" width="136.5" height="444.0" fill="url(#g7)"/>
</g>
<rect x="214.0" y="467" width="25.2" height="208.5" fill="url(#rsh)"/>
<rect x="352.4" y="401" width="23.2" height="274.5" fill="url(#rsh)"/>
<rect x="486.7" y="368" width="25.2" height="307.5" fill="url(#rsh)"/>
<rect x="629.0" y="351" width="19.2" height="324.5" fill="url(#rsh)"/>
<rect x="762.5" y="320" width="22.2" height="355.5" fill="url(#rsh)"/>
<rect x="897.0" y="299" width="24.2" height="376.5" fill="url(#rsh)"/>
<rect x="1025.0" y="270.5" width="33.2" height="405.0" fill="url(#rsh)"/>
<text x="169.5" y="660.2" class="val">858M</text>
<text x="306.15" y="660.2" class="val">226M</text>
<text x="442.85" y="660.2" class="val">148M</text>
<text x="579.5" y="660.2" class="val">265M</text>
<text x="716" y="660.2" class="val">122M</text>
<text x="852.45" y="660.2" class="val">497M</text>
<text x="988.95" y="660.2" class="val">427M</text>
<text x="1125.35" y="660.2" class="val">189M</text>
<text x="170.4" y="702.7" class="lab" textLength="110.0" lengthAdjust="spacingAndGlyphs">Agriculture</text>
<text x="309.5" y="702.7" class="lab" textLength="98.19999999999999" lengthAdjust="spacingAndGlyphs">Education</text>
<text x="443.65" y="702.7" class="lab" textLength="107.5" lengthAdjust="spacingAndGlyphs">Healthcare</text>
<text x="579.6" y="702.7" class="lab" textLength="115.5" lengthAdjust="spacingAndGlyphs">Contruction</text>
<text x="579.875" y="719.7" class="amp" textLength="12.2" lengthAdjust="spacingAndGlyphs">&amp;</text>
<text x="580.15" y="738.7" class="lab" textLength="109.69999999999999" lengthAdjust="spacingAndGlyphs">Real Estate</text>
<text x="717.3" y="702.7" class="lab" textLength="104.0" lengthAdjust="spacingAndGlyphs">Hospitality</text>
<text x="717.25" y="719.7" class="amp" textLength="12.2" lengthAdjust="spacingAndGlyphs">&amp;</text>
<text x="717.2" y="738.7" class="lab" textLength="118.0" lengthAdjust="spacingAndGlyphs">Restaurants</text>
<text x="853.6" y="702.7" class="lab" textLength="55.4" lengthAdjust="spacingAndGlyphs">Retail</text>
<text x="989.35" y="702.7" class="lab" textLength="133.5" lengthAdjust="spacingAndGlyphs">Manufacturing</text>
<text x="1126.4" y="702.7" class="lab" textLength="137.0" lengthAdjust="spacingAndGlyphs">Transportation</text>
<text x="1126.15" y="719.7" class="amp" textLength="12.2" lengthAdjust="spacingAndGlyphs">&amp;</text>
<text x="1125.9" y="738.7" class="lab" textLength="84.6" lengthAdjust="spacingAndGlyphs">Logistics</text>
<g filter="url(#sh)"><circle cx="170.5" cy="376.2" r="38" fill="#52cfd9"/></g>
<path d="M170.5 376.2 L170.5 338.2 A38 38 0 0 1 175.13 413.92 Z" fill="#257b84"/>
<text x="170.75" y="386.6" class="pct">55<tspan>%</tspan></text>
<g filter="url(#sh)"><circle cx="306.9" cy="305.8" r="38" fill="#4a7bbb"/></g>
<path d="M306.9 305.8 L306.9 267.8 A38 38 0 0 1 344.90 305.80 Z" fill="#1b3f75"/>
<text x="306.9" y="315.85" class="pct">75<tspan>%</tspan></text>
<g filter="url(#sh)"><circle cx="443.4" cy="257.8" r="38" fill="#7aa3b6"/></g>
<path d="M443.4 257.8 L443.4 219.8 A38 38 0 0 1 480.27 248.61 Z" fill="#466573"/>
<text x="443.3" y="267.70000000000005" class="pct">77<tspan>%</tspan></text>
<g filter="url(#sh)"><circle cx="580" cy="198.5" r="38" fill="#ee4a66"/></g>
<path d="M580 198.5 L580 160.5 A38 38 0 0 1 616.14 186.76 Z" fill="#d02844"/>
<text x="580" y="208.4" class="pct">78<tspan>%</tspan></text>
<g filter="url(#sh)"><circle cx="716.4" cy="175.2" r="38" fill="#efa24e"/></g>
<path d="M716.4 175.2 L716.4 137.2 A38 38 0 0 1 746.34 151.80 Z" fill="#e44e26"/>
<text x="716.2" y="184.9" class="pct">82<tspan>%</tspan></text>
<g filter="url(#sh)"><circle cx="852.8" cy="157.6" r="38" fill="#fcc74c"/></g>
<path d="M852.8 157.6 L852.8 119.6 A38 38 0 0 1 881.04 132.17 Z" fill="#e8952e"/>
<text x="852.6" y="167.6" class="pct">83<tspan>%</tspan></text>
<g filter="url(#sh)"><circle cx="989" cy="129.4" r="38" fill="#338b68"/></g>
<path d="M989 129.4 L989 91.4 A38 38 0 0 1 1008.57 96.83 Z" fill="#237554"/>
<text x="989.4" y="138.4" class="pct">91<tspan>%</tspan></text>
<g filter="url(#sh)"><circle cx="1125.8" cy="97.8" r="38" fill="#7fb436"/></g>
<text x="1125.15" y="107.6" class="pct">100<tspan>%</tspan></text>
</svg>
</body></html>
